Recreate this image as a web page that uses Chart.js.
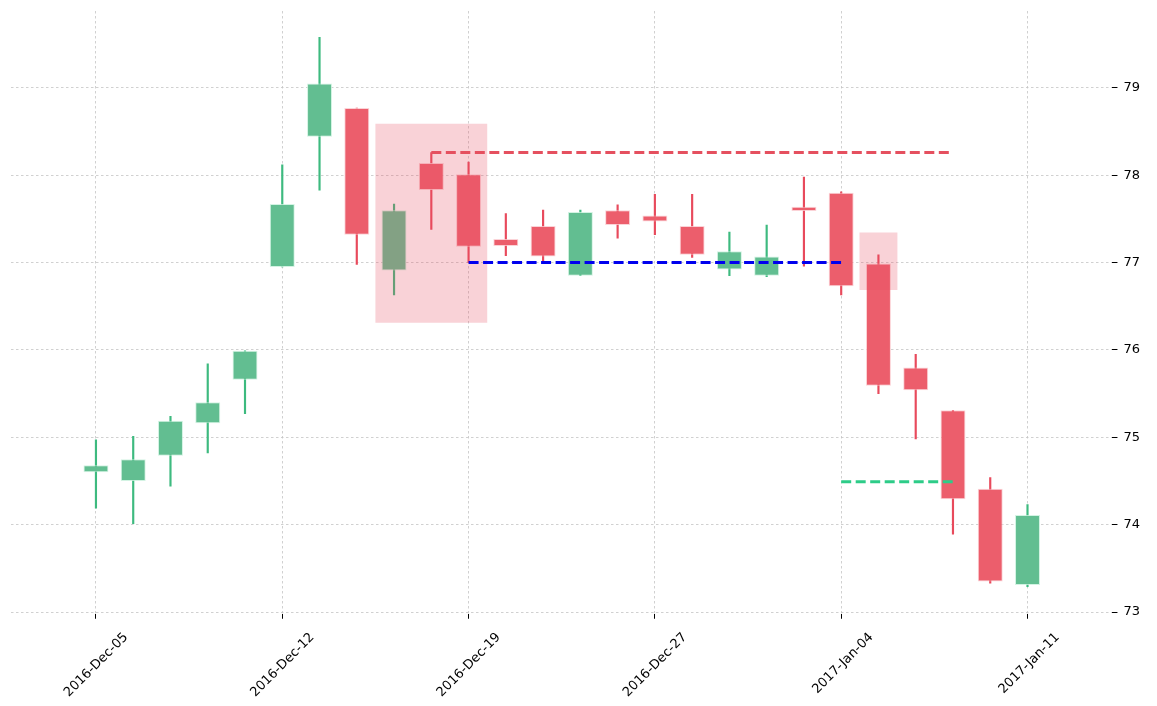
<!DOCTYPE html>
<html>
<head>
<meta charset="utf-8">
<script src="https://cdn.jsdelivr.net/npm/chart.js@4.4.0/dist/chart.umd.min.js"></script>
<style>
  html, body { margin: 0; padding: 0; background: #fff; }
  #wrap { width: 1157px; height: 706px; }
</style>
</head>
<body>
<div id="wrap"><canvas id="candles"></canvas></div>
<script>
// trading days shown on the chart
const dates = ['2016-Dec-05', '2016-Dec-06', '2016-Dec-07', '2016-Dec-08', '2016-Dec-09',
  '2016-Dec-12', '2016-Dec-13', '2016-Dec-14', '2016-Dec-15', '2016-Dec-16',
  '2016-Dec-19', '2016-Dec-20', '2016-Dec-21', '2016-Dec-22', '2016-Dec-23',
  '2016-Dec-27', '2016-Dec-28', '2016-Dec-29', '2016-Dec-30', '2017-Jan-03',
  '2017-Jan-04', '2017-Jan-05', '2017-Jan-06', '2017-Jan-09', '2017-Jan-10',
  '2017-Jan-11'];

const opens  = [74.60, 74.50, 74.79, 75.16, 75.66, 76.95, 78.44, 78.77, 76.91, 78.14,
  78.01, 77.27, 77.42, 76.85, 77.60, 77.54, 77.42, 76.92, 76.85, 77.64,
  77.80, 76.99, 75.80, 75.31, 74.41, 73.31];
const highs  = [74.97, 75.01, 75.24, 75.84, 75.99, 78.12, 79.58, 78.77, 77.67, 78.26,
  78.15, 77.56, 77.60, 77.60, 77.66, 77.78, 77.78, 77.35, 77.43, 77.98,
  77.81, 77.09, 75.95, 75.31, 74.54, 74.23];
const lows   = [74.19, 74.01, 74.44, 74.82, 75.27, 76.95, 77.83, 76.98, 76.63, 77.38,
  77.00, 77.08, 76.99, 76.85, 77.28, 77.32, 77.06, 76.85, 76.84, 76.96,
  76.63, 75.50, 74.98, 73.89, 73.33, 73.29];
const closes = [74.68, 74.75, 75.19, 75.40, 75.99, 77.67, 79.05, 77.32, 77.60, 77.83,
  77.18, 77.19, 77.07, 77.58, 77.43, 77.47, 77.09, 77.13, 77.07, 77.59,
  76.73, 75.59, 75.54, 74.29, 73.35, 74.11];

// highlighted zones: [centre index, span in days, bottom, top]
const zoneWide = [9, 3, 76.31, 78.59];
const zoneNarrow = [21, 1, 76.69, 77.34];

// dashed levels: [from index, to index, price]
const resistance = [9, 23, 78.26];
const support = [10, 20, 77.00];
const target = [20, 23, 74.49];

const yTicks = [73, 74, 75, 76, 77, 78, 79];

const GREEN = '#62be91';
const RED = '#ec5e6c';
const GREEN_WICK = '#3dba7f';
const RED_WICK = '#e84a5c';

const idx = dates.map((_, i) => i);
const isUp = i => closes[i] >= opens[i];

const bodies = idx.map(i => ({ x: i, y: [opens[i], closes[i]] }));
const wicks = idx.map(i => ({ x: i, y: [lows[i], highs[i]] }));

const levelLine = (lvl, color) => ({
  type: 'line',
  data: [{ x: lvl[0], y: lvl[2] }, { x: lvl[1], y: lvl[2] }],
  borderColor: color,
  borderWidth: 3,
  borderDash: [10, 4.5],
  pointRadius: 0,
  fill: false,
  order: -1
});

const zoneBar = (z) => ({
  type: 'bar',
  data: [{ x: z[0], y: [z[2], z[3]] }],
  backgroundColor: 'rgba(231, 76, 94, 0.25)',
  borderWidth: 0,
  grouped: false,
  categoryPercentage: 1,
  barPercentage: z[1],
  order: 0
});

const gridOpts = {
  color: '#c4c4c4',
  lineWidth: 0.8,
  offset: false,
  tickColor: '#000',
  tickLength: 5,
  tickWidth: 1
};

const ctx = document.getElementById('candles').getContext('2d');
new Chart(ctx, {
  data: {
    datasets: [
      levelLine(resistance, '#e5505f'),
      levelLine(support, '#0000ee'),
      levelLine(target, '#2dcc88'),
      zoneBar(zoneWide),
      zoneBar(zoneNarrow),
      {
        type: 'bar',
        data: bodies,
        backgroundColor: idx.map(i => isUp(i) ? GREEN : RED),
        borderColor: idx.map(i => isUp(i) ? 'rgba(200,240,220,0.8)' : 'rgba(250,200,205,0.8)'),
        borderWidth: 1,
        borderSkipped: false,
        grouped: false,
        categoryPercentage: 1,
        barPercentage: 0.67,
        order: 1
      },
      {
        type: 'bar',
        data: wicks,
        backgroundColor: idx.map(i => isUp(i) ? GREEN_WICK : RED_WICK),
        borderWidth: 0,
        grouped: false,
        barThickness: 1.5,
        order: 2
      }
    ]
  },
  options: {
    responsive: true,
    maintainAspectRatio: false,
    animation: false,
    layout: { padding: { left: 11, top: 11, right: 11, bottom: -5.3 } },
    plugins: {
      legend: { display: false },
      tooltip: { enabled: false }
    },
    scales: {
      x: {
        type: 'linear',
        offset: false,
        min: -2.28,
        max: 27.28,
        border: { display: false, dash: [2.5, 2.5] },
        grid: gridOpts,
        ticks: {
          stepSize: 5,
          includeBounds: false,
          autoSkip: false,
          maxRotation: 45,
          minRotation: 45,
          labelOffset: 30,
          padding: 11,
          color: '#000',
          font: { family: 'DejaVu Sans', size: 13 },
          callback: v => dates[v] || ''
        }
      },
      y: {
        type: 'linear',
        position: 'right',
        min: 72.98,
        max: 79.88,
        border: { display: false, dash: [2.5, 2.5] },
        afterBuildTicks: axis => { axis.ticks = yTicks.map(v => ({ value: v })); },
        // labels never sit at the very top, so drop the label overhang padding
        afterFit: axis => { axis.paddingTop = 0; axis.paddingBottom = 0; },
        grid: gridOpts,
        ticks: {
          color: '#000',
          padding: 6,
          font: { family: 'DejaVu Sans', size: 13 }
        }
      }
    }
  }
});
</script>
</body>
</html>
